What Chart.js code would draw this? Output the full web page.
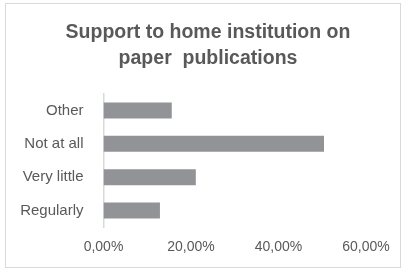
<!DOCTYPE html>
<html>
<head>
<meta charset="utf-8">
<script src="https://cdn.jsdelivr.net/npm/chart.js@4/dist/chart.umd.min.js"></script>
<style>
  html, body { margin: 0; padding: 0; background: #fff; }
  #wrap { position: relative; width: 406px; height: 268px; }
  #frame { position: absolute; left: 5px; top: 3px; width: 394px; height: 263px; border: 1px solid #d9d9d9; pointer-events: none; }
</style>
</head>
<body>
<div id="wrap">
  <canvas id="chart" width="406" height="268"></canvas>
  <div id="frame"></div>
</div>
<script>
// values
const categories = ['Other', 'Not at all', 'Very little', 'Regularly'];
const shares = [15.6, 50.4, 21.1, 12.9];
const xTicks = [0, 20, 40, 60];

const textGrey = '#595959';
Chart.defaults.font.family = "'Liberation Sans', Arial, sans-serif";
Chart.defaults.color = textGrey;

let ctx = document.getElementById('chart').getContext('2d');

let myChart = new Chart(ctx, {
  type: 'bar',
  data: {
    labels: categories,
    datasets: [{
      data: shares,
      backgroundColor: '#929396',
      categoryPercentage: 1,
      barPercentage: 0.48
    }]
  },
  options: {
    indexAxis: 'y',
    responsive: false,
    animation: false,
    layout: { padding: { left: 10, right: 0, top: 0, bottom: 0 } },
    plugins: {
      legend: { display: false },
      tooltip: { enabled: false },
      title: {
        display: true,
        text: ['Support to home institution on', 'paper  publications'],
        color: textGrey,
        font: { size: 19.5, weight: 'bold', lineHeight: 1.33 },
        padding: { top: 20, bottom: 22 }
      }
    },
    scales: {
      x: {
        min: xTicks[0],
        max: xTicks[xTicks.length - 1],
        afterBuildTicks: (scale) => { scale.ticks = xTicks.map(v => ({ value: v })); },
        grid: { display: false, drawTicks: false },
        border: { display: false },
        ticks: {
          padding: 12,
          font: { size: 14 },
          callback: (v) => v.toFixed(2).replace('.', ',') + '%'
        }
      },
      y: {
        grid: { display: false, drawTicks: false },
        border: { display: true, color: '#d9d9d9', width: 1.5 },
        ticks: { padding: 20, font: { size: 15 } },
        afterFit: (scale) => { scale.width = 93.5; }
      },
      // empty right-hand axis, only there to keep space on the right
      yRight: {
        type: 'linear',
        position: 'right',
        grid: { display: false, drawTicks: false },
        border: { display: false },
        ticks: { display: false },
        afterFit: (scale) => { scale.width = 40; }
      }
    }
  }
});
</script>
</body>
</html>
